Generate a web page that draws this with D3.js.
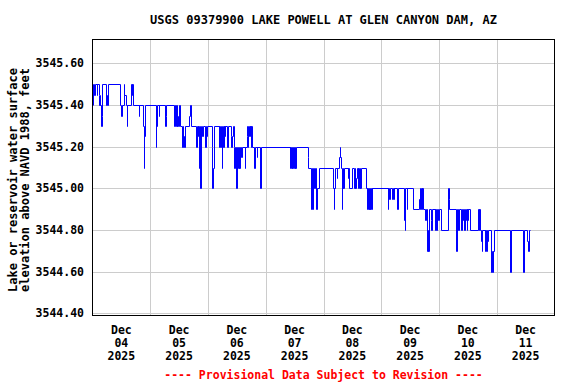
<!DOCTYPE html>
<html><head><meta charset="utf-8">
<script src="https://cdn.jsdelivr.net/npm/d3@7"></script>
<style>html,body{margin:0;padding:0;background:#fff;}svg{display:block;}</style>
</head><body>
<svg id="chart" width="576" height="384"></svg>
<script>
// ---- data ----
const titleText = "USGS 09379900 LAKE POWELL AT GLEN CANYON DAM, AZ";
const yTitleLines = ["Lake or reservoir water surface", "elevation above NAVD 1988, feet"];
const footerText = "---- Provisional Data Subject to Revision ----";
const yTicks = [3544.40, 3544.60, 3544.80, 3545.00, 3545.20, 3545.40, 3545.60];
const dayLabels = ["04", "05", "06", "07", "08", "09", "10", "11"];
const monthLabel = "Dec";
const yearLabel = "2025";
// step-change points: hours after Dec 04 2025 00:00, and the gage height held from that time
const hours = [0,0.25,0.75,1,1.75,2,2.5,2.75,3,3.25,3.5,3.75,4,5.75,6,6.25,6.5,11.5,12,12.25,13,13.25,13.75,14.25,14.5,16,16.25,16.5,16.75,19.25,19.5,21,21.25,21.5,21.75,26.25,26.5,26.75,27.5,27.75,30.25,30.5,30.75,34,34.25,34.75,35,35.25,35.5,35.75,36,36.25,37.25,37.5,37.75,38,38.25,40.25,40.5,41,43,43.25,43.75,44,44.25,44.5,44.75,45,45.5,45.75,46.75,47,47.25,47.5,49.5,49.75,50,50.5,52.5,52.75,53,53.5,53.75,54,54.25,54.5,54.75,55,55.25,56,56.25,57.5,57.75,58,58.25,58.75,59,59.25,59.75,60,60.5,60.75,61,61.25,61.75,62.25,63.25,63.5,64,64.25,64.5,64.75,65,65.25,65.5,65.75,66,66.25,67.25,67.5,68.25,68.5,69.75,70,82,82.25,82.5,82.75,83,83.25,83.75,84,84.25,84.5,89.5,89.75,91,91.25,91.5,91.75,92,92.5,92.75,93,93.25,94,100,100.25,100.5,100.75,101.5,101.75,102.5,102.75,103,103.25,103.5,103.75,104,104.25,104.5,106,106.25,106.5,108,108.75,109,109.25,109.5,109.75,110.25,110.5,110.75,111,111.25,111.5,113.5,114,114.25,114.5,114.75,115,115.25,115.5,115.75,116,116.25,122.75,123,123.25,123.5,124.5,124.75,125.25,125.5,126.75,127,129.5,129.75,130,130.5,130.75,133.25,135.75,136,136.25,136.5,136.75,137,137.25,138.25,138.5,139,139.25,139.5,139.75,140.5,140.75,141,142.25,142.5,142.75,143,143.75,144,144.75,147.75,148,148.25,151.25,151.5,152,152.5,153.25,153.5,154,154.25,154.5,154.75,155,155.25,155.5,155.75,156,156.25,156.75,160.25,160.5,160.75,161,161.5,161.75,162,163,163.25,163.5,163.75,164,164.25,165.75,166,166.25,166.5,166.75,173.5,173.75,179,179.25,180.75,181,181.25,181.75];
const levels = [3545.40,3545.50,3545.45,3545.50,3545.45,3545.50,3545.45,3545.40,3545.45,3545.40,3545.30,3545.35,3545.50,3545.40,3545.45,3545.40,3545.50,3545.40,3545.35,3545.40,3545.50,3545.45,3545.40,3545.30,3545.40,3545.50,3545.45,3545.50,3545.40,3545.35,3545.40,3545.30,3545.10,3545.25,3545.40,3545.20,3545.30,3545.40,3545.35,3545.40,3545.30,3545.35,3545.40,3545.30,3545.40,3545.30,3545.40,3545.30,3545.35,3545.30,3545.40,3545.30,3545.20,3545.30,3545.25,3545.20,3545.30,3545.35,3545.40,3545.30,3545.20,3545.30,3545.25,3545.30,3545.10,3545.30,3545.00,3545.30,3545.25,3545.30,3545.20,3545.30,3545.25,3545.30,3545.20,3545.00,3545.10,3545.30,3545.20,3545.30,3545.20,3545.30,3545.10,3545.20,3545.30,3545.20,3545.30,3545.25,3545.30,3545.20,3545.30,3545.25,3545.20,3545.25,3545.30,3545.20,3545.10,3545.20,3545.00,3545.20,3545.10,3545.20,3545.10,3545.20,3545.15,3545.20,3545.10,3545.20,3545.25,3545.30,3545.20,3545.25,3545.30,3545.25,3545.30,3545.20,3545.30,3545.20,3545.10,3545.20,3545.15,3545.20,3545.00,3545.20,3545.10,3545.20,3545.10,3545.20,3545.10,3545.20,3545.10,3545.20,3545.10,3545.20,3545.15,3545.10,3544.90,3545.10,3544.90,3545.00,3545.10,3545.00,3545.10,3544.90,3545.00,3545.10,3545.00,3544.90,3545.00,3545.10,3545.05,3545.10,3545.15,3545.20,3545.15,3545.10,3544.90,3545.00,3545.10,3545.00,3545.10,3545.05,3545.10,3545.00,3545.10,3545.00,3545.10,3545.00,3545.05,3545.10,3545.00,3545.10,3545.00,3545.10,3545.00,3545.10,3545.00,3544.90,3545.00,3544.90,3545.00,3544.90,3545.00,3544.90,3545.00,3544.90,3545.00,3544.90,3545.00,3544.95,3545.00,3544.95,3545.00,3544.95,3545.00,3544.90,3545.00,3544.85,3544.80,3545.00,3544.90,3545.00,3544.90,3544.95,3545.00,3544.90,3545.00,3544.90,3545.00,3544.90,3544.85,3544.90,3544.70,3544.80,3544.70,3544.90,3544.85,3544.80,3544.90,3544.80,3544.90,3544.80,3544.90,3544.85,3544.90,3544.80,3545.00,3544.95,3544.90,3544.70,3544.90,3544.80,3544.90,3544.80,3544.90,3544.85,3544.90,3544.80,3544.90,3544.85,3544.90,3544.80,3544.90,3544.85,3544.90,3544.80,3544.90,3544.80,3544.90,3544.80,3544.75,3544.70,3544.80,3544.70,3544.80,3544.70,3544.80,3544.75,3544.80,3544.60,3544.70,3544.60,3544.70,3544.80,3544.60,3544.80,3544.60,3544.80,3544.75,3544.70,3544.80,3544.80];

// ---- layout ----
const W = 576, H = 384;
const plot = {left: 92.5, right: 554.5, top: 39.5, bottom: 315.5};
const font = "'DejaVu Sans Mono', 'Liberation Mono', monospace";
const t0 = Date.UTC(2025, 11, 4);
const HOUR = 3600e3;
const snap = v => Math.round(v) + 0.5;

const svg = d3.select("#chart");
const x = d3.scaleUtc().domain([new Date(t0), new Date(t0 + 8 * 24 * HOUR)]).range([plot.left, plot.right]);
const y = d3.scaleLinear().domain([3544.39, 3545.715]).range([plot.bottom, plot.top]);

const data = hours.map((h, i) => ({t: new Date(t0 + h * HOUR), v: levels[i]}));

// gridlines
const g = svg.append("g");
const midnights = d3.range(1, 8).map(d => new Date(t0 + d * 24 * HOUR));
g.selectAll("line.vg").data(midnights).join("line")
  .attr("x1", d => snap(x(d))).attr("x2", d => snap(x(d)))
  .attr("y1", plot.top).attr("y2", plot.bottom)
  .attr("stroke", "#cccccc").attr("stroke-width", 1);
g.selectAll("line.hg").data(yTicks).join("line")
  .attr("x1", plot.left).attr("x2", plot.right)
  .attr("y1", d => snap(y(d))).attr("y2", d => snap(y(d)))
  .attr("stroke", "#cccccc").attr("stroke-width", 1);

// data line (pixel-snapped step line)
const line = d3.line().x(d => snap(x(d.t))).y(d => snap(y(d.v))).curve(d3.curveStepAfter);
svg.append("path").datum(data).attr("d", line)
  .attr("fill", "none").attr("stroke", "#0000ff").attr("stroke-width", 1);

// frame
svg.append("rect").attr("x", plot.left).attr("y", plot.top)
  .attr("width", plot.right - plot.left).attr("height", plot.bottom - plot.top)
  .attr("fill", "none").attr("stroke", "#000").attr("stroke-width", 1);

// y tick labels
svg.selectAll("text.yt").data(yTicks).join("text")
  .attr("x", 84).attr("y", d => y(d) + 4)
  .attr("text-anchor", "end")
  .attr("font-family", font).attr("font-weight", "bold").attr("font-size", "11.5px")
  .text(d => d.toFixed(2));

// x tick labels (at noon each day)
const noons = dayLabels.map((lab, i) => ({lab, t: new Date(t0 + (i * 24 + 12) * HOUR)}));
const xt = svg.selectAll("text.xt").data(noons).join("text")
  .attr("text-anchor", "middle")
  .attr("font-family", font).attr("font-weight", "bold").attr("font-size", "11.5px");
xt.append("tspan").attr("x", d => x(d.t)).attr("y", 334).text(monthLabel);
xt.append("tspan").attr("x", d => x(d.t)).attr("y", 347).text(d => d.lab);
xt.append("tspan").attr("x", d => x(d.t)).attr("y", 360).text(yearLabel);

// title
svg.append("text").attr("x", (plot.left + plot.right) / 2).attr("y", 24)
  .attr("text-anchor", "middle")
  .attr("font-family", font).attr("font-weight", "bold").attr("font-size", "12px")
  .text(titleText);

// y axis title
[16.5, 29].forEach((bx, i) => {
  svg.append("text")
    .attr("transform", `translate(${bx},180) rotate(-90)`)
    .attr("text-anchor", "middle")
    .attr("font-family", font).attr("font-weight", "bold").attr("font-size", "12px")
    .text(yTitleLines[i]);
});

// footer
svg.append("text").attr("x", (plot.left + plot.right) / 2).attr("y", 378.5)
  .attr("text-anchor", "middle").attr("fill", "#ff0000")
  .attr("font-family", font).attr("font-weight", "bold").attr("font-size", "11.5px")
  .text(footerText);
</script>
</body></html>
